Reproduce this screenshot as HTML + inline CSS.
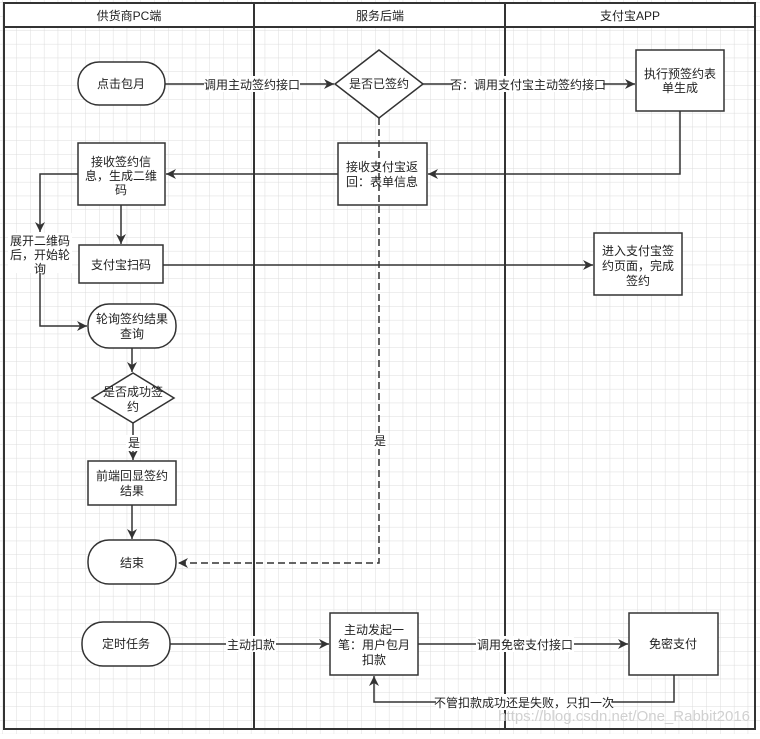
<!DOCTYPE html>
<html><head><meta charset="utf-8"><style>
html,body{margin:0;padding:0;background:#fff;}
svg text{font-family:"Liberation Sans","Noto Sans CJK SC",sans-serif;font-size:12px;fill:#222;}
</style></head><body>
<svg width="760" height="734" xmlns="http://www.w3.org/2000/svg">
<defs>
<pattern id="g" width="13.8" height="13.8" patternUnits="userSpaceOnUse" x="3" y="3">
<path d="M13.8 0V13.8H0" fill="none" stroke="#dcdcdc" stroke-width="1"/>
</pattern>
<marker id="a" viewBox="0 0 10 10" refX="10" refY="5" markerWidth="10" markerHeight="10" orient="auto" markerUnits="userSpaceOnUse"><path d="M0,0L10,5L0,10L3,5z" fill="#333"/></marker>
</defs>
<rect width="760" height="734" fill="url(#g)"/>
<g fill="none" stroke="#333" stroke-width="2">
<rect x="4" y="3" width="751" height="726"/>
<line x1="4" y1="27" x2="755" y2="27"/>
<line x1="254" y1="3" x2="254" y2="729"/>
<line x1="505" y1="3" x2="505" y2="729"/>
</g>
<rect x="5" y="4" width="748" height="22" fill="#fff"/>
<g stroke="#333" stroke-width="2"><line x1="254" y1="3" x2="254" y2="27"/><line x1="505" y1="3" x2="505" y2="27"/></g>
<text x="129" y="20" text-anchor="middle">供货商PC端</text>
<text x="380" y="20" text-anchor="middle">服务后端</text>
<text x="630" y="20" text-anchor="middle">支付宝APP</text>

<g fill="#fff" stroke="#333" stroke-width="1.5">
<rect x="78" y="62" width="87" height="43" rx="21"/>
<polygon points="379,50 423,84 379,118 335,84"/>
<rect x="636" y="50" width="88" height="61"/>
<rect x="338" y="143" width="89" height="62"/>
<rect x="78" y="143" width="87" height="62"/>
<rect x="79" y="245" width="84" height="38"/>
<rect x="594" y="233" width="88" height="62"/>
<rect x="88" y="304" width="88" height="44" rx="21"/>
<polygon points="133,373 174,398 133,423 92,398"/>
<rect x="88" y="461" width="88" height="44"/>
<rect x="88" y="540" width="88" height="44" rx="21"/>
<rect x="82" y="622" width="88" height="44" rx="21"/>
<rect x="330" y="613" width="88" height="62"/>
<rect x="629" y="613" width="89" height="62"/>
</g>

<g fill="none" stroke="#333" stroke-width="1.5">
<line x1="165" y1="84" x2="334" y2="84" marker-end="url(#a)"/>
<line x1="423" y1="84" x2="635" y2="84" marker-end="url(#a)"/>
<polyline points="680,111 680,174 428,174" marker-end="url(#a)"/>
<line x1="338" y1="174" x2="166" y2="174" marker-end="url(#a)"/>
<polyline points="78,174 40,174 40,232" marker-end="url(#a)"/>
<polyline points="40,268 40,326 87,326" marker-end="url(#a)"/>
<line x1="121" y1="205" x2="121" y2="244" marker-end="url(#a)"/>
<line x1="163" y1="265" x2="593" y2="265" marker-end="url(#a)"/>
<line x1="132" y1="348" x2="132" y2="372" marker-end="url(#a)"/>
<line x1="133" y1="423" x2="133" y2="460" marker-end="url(#a)"/>
<line x1="132" y1="505" x2="132" y2="539" marker-end="url(#a)"/>
<polyline points="379,118 379,563 178,563" stroke-dasharray="7,4" marker-end="url(#a)"/>
<line x1="170" y1="644" x2="329" y2="644" marker-end="url(#a)"/>
<line x1="418" y1="644" x2="628" y2="644" marker-end="url(#a)"/>
<polyline points="674,675 674,702 374,702 374,676" marker-end="url(#a)"/>
</g>

<g>
<rect x="204" y="76" width="96" height="16" fill="#fff"/>
<text x="252" y="89" text-anchor="middle">调用主动签约接口</text>
<rect x="453" y="76" width="150" height="16" fill="#fff"/>
<text x="528" y="89" text-anchor="middle">否：调用支付宝主动签约接口</text>
<rect x="8" y="233" width="64" height="40" fill="#fff"/>
<text x="40" y="245" text-anchor="middle">展开二维码</text>
<text x="40" y="259" text-anchor="middle">后，开始轮</text>
<text x="40" y="273" text-anchor="middle">询</text>
<rect x="126" y="435" width="14" height="16" fill="#fff"/>
<text x="134" y="447" text-anchor="middle">是</text>
<rect x="373" y="433" width="14" height="16" fill="#fff"/>
<text x="380" y="445" text-anchor="middle">是</text>
<rect x="226" y="636" width="50" height="16" fill="#fff"/>
<text x="251" y="649" text-anchor="middle">主动扣款</text>
<rect x="476" y="636" width="98" height="16" fill="#fff"/>
<text x="525" y="649" text-anchor="middle">调用免密支付接口</text>
<rect x="436" y="694" width="176" height="16" fill="#fff"/>
<text x="524" y="707" text-anchor="middle">不管扣款成功还是失败，只扣一次</text>
</g>

<g text-anchor="middle">
<text x="121" y="88">点击包月</text>
<text x="379" y="88">是否已签约</text>
<text x="680" y="78">执行预签约表</text>
<text x="680" y="92">单生成</text>
<text x="382" y="171">接收支付宝返</text>
<text x="382" y="186">回：表单信息</text>
<text x="121" y="166">接收签约信</text>
<text x="121" y="180">息，生成二维</text>
<text x="121" y="194">码</text>
<text x="121" y="269">支付宝扫码</text>
<text x="638" y="255">进入支付宝签</text>
<text x="638" y="270">约页面，完成</text>
<text x="638" y="285">签约</text>
<text x="132" y="323">轮询签约结果</text>
<text x="132" y="338">查询</text>
<text x="133" y="396">是否成功签</text>
<text x="133" y="411">约</text>
<text x="132" y="480">前端回显签约</text>
<text x="132" y="495">结果</text>
<text x="132" y="567">结束</text>
<text x="126" y="648">定时任务</text>
<text x="374" y="634">主动发起一</text>
<text x="374" y="649">笔：用户包月</text>
<text x="374" y="664">扣款</text>
<text x="673" y="648">免密支付</text>
</g>
<text x="750" y="721" text-anchor="end" style="font-size:15px;fill:#d0d0d0">https://blog.csdn.net/One_Rabbit2016</text>
</svg>
</body></html>
